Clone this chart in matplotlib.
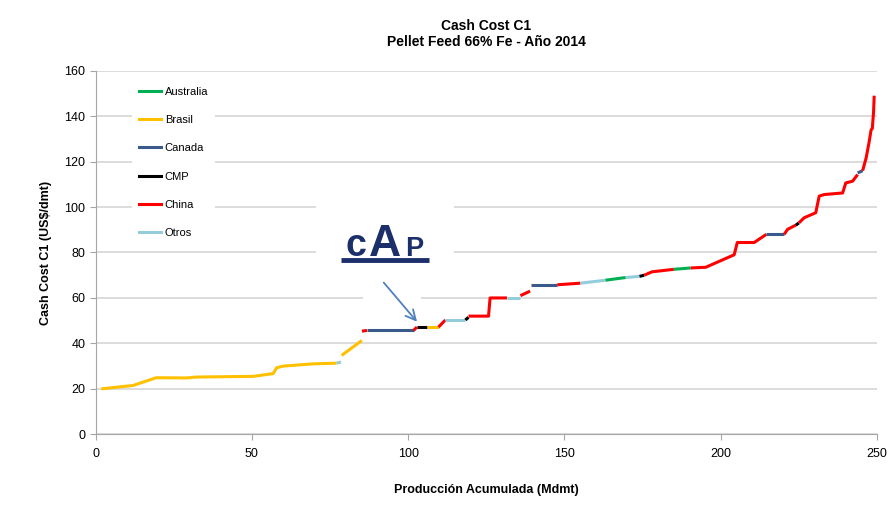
import matplotlib
matplotlib.use("Agg")
import matplotlib.pyplot as plt
from matplotlib.lines import Line2D
from matplotlib.patches import Rectangle

plt.rcParams['font.family'] = ['Liberation Sans', 'DejaVu Sans']

# segmentos de la curva de costos (pais, produccion acumulada, costo)
seg_country = ["Brasil", "Otros", "Brasil", "China", "Canada", "China", "CMP", "Brasil",
               "China", "Otros", "CMP", "China", "Otros", "China", "Canada", "China",
               "Otros", "Australia", "Otros", "CMP", "China", "Australia", "China",
               "Canada", "China", "CMP", "China", "Canada", "China"]
seg_x = [[1.8, 12, 19.4, 29, 32.3, 50.4, 56.8, 57.9, 60, 69.6, 77.1],
         [77.1, 78.5],
         [78.7, 85.2],
         [85.2, 86.8],
         [86.8, 101.7],
         [101.7, 102.8],
         [102.8, 106],
         [106, 109.7],
         [109.7, 111.9],
         [111.9, 118.3],
         [118.3, 119.3],
         [119.3, 125.7, 126.2, 131.6],
         [131.6, 135.9],
         [135.9, 139],
         [139.3, 147.7],
         [147.7, 155.1],
         [155.1, 163.1],
         [163.1, 169.6],
         [169.6, 174],
         [174, 175.5],
         [175.5, 178, 185],
         [185, 190.4],
         [190.4, 195.2, 204.3, 205.3, 210.7, 214.6],
         [214.6, 220.3],
         [220.3, 221.4, 223.5, 224],
         [224, 225],
         [225, 226.7, 230.4, 231.5, 233.1, 239, 240, 242.2, 243.8],
         [243.8, 245.4],
         [245.4, 246.5, 247.5, 248.1, 248.5, 248.9, 249.1]]
seg_y = [[20, 21.5, 24.9, 24.8, 25.2, 25.5, 26.7, 29.3, 30, 31, 31.3],
         [31.3, 31.8],
         [34.7, 41.3],
         [45.4, 45.7],
         [45.7, 45.7],
         [45.7, 47.2],
         [47.2, 47.2],
         [47.2, 47.2],
         [47.2, 50.3],
         [50.3, 50.3],
         [50.3, 51.5],
         [52, 52, 60, 60],
         [60, 60],
         [61, 63],
         [65.8, 65.8],
         [65.8, 66.5],
         [66.5, 67.8],
         [67.8, 69],
         [69, 69.5],
         [69.5, 70],
         [70, 71.5, 72.6],
         [72.6, 73.2],
         [73.2, 73.5, 79, 84.4, 84.4, 88],
         [88, 88],
         [88, 90.2, 91.7, 92],
         [92, 93],
         [93, 95.3, 97.5, 104.8, 105.5, 106.2, 110.6, 111.4, 114.3],
         [115, 116],
         [116, 121.5, 128.8, 133.9, 134.6, 141.9, 149]]

countries = ["Australia", "Brasil", "Canada", "CMP", "China", "Otros"]
colors = {"Australia": "#00B050", "Brasil": "#FFC000", "Canada": "#3A5A8C",
          "CMP": "#000000", "China": "#FF0000", "Otros": "#92CDDC"}

fig = plt.figure(figsize=(8.94, 5.05), dpi=100)
ax = fig.add_axes([0.107, 0.14, 0.874, 0.72])

for c, xs, ys in zip(seg_country, seg_x, seg_y):
    ax.plot(xs, ys, color=colors[c], lw=2.2, solid_capstyle='butt', zorder=3)

ax.set_xlim(0, 250)
ax.set_ylim(0, 160)
ax.set_xticks(range(0, 251, 50))
ax.set_yticks(range(0, 161, 20))
ax.yaxis.grid(True, color='#D9D9D9', lw=1.3)
ax.set_axisbelow(True)
for s in ['top', 'right']:
    ax.spines[s].set_visible(False)
ax.spines['left'].set_color('#A6A6A6')
ax.spines['bottom'].set_color('#A6A6A6')
ax.tick_params(colors='#A6A6A6', labelcolor='black', labelsize=9, length=4)
ax.tick_params(axis='x', pad=6)

ax.set_title("Cash Cost C1\nPellet Feed 66% Fe - Año 2014", fontsize=10,
             fontweight='bold', pad=18)
ax.set_xlabel("Producción Acumulada (Mdmt)", fontsize=9, fontweight='bold', labelpad=17)
ax.set_ylabel("Cash Cost C1 (US$/dmt)", fontsize=9, fontweight='bold', labelpad=9)

handles = [Line2D([], [], color=colors[c], lw=2.2) for c in countries]
leg = ax.legend(handles, countries, loc='upper left', bbox_to_anchor=(0.04, 0.99),
                frameon=True, fontsize=8, labelspacing=1.65, handlelength=2.0,
                handletextpad=0.3, borderpad=0.6)
leg.get_frame().set_edgecolor('none')
leg.get_frame().set_facecolor('white')
leg.get_frame().set_alpha(1)

# logo CAP (fondo blanco) y flecha
ax.add_patch(Rectangle((70.5, 74), 44, 28.5, facecolor='white', edgecolor='none', zorder=1))
ax.add_patch(Rectangle((85.5, 56), 18.5, 10, facecolor='white', edgecolor='none', zorder=1))
navy = '#1B2F6B'
ax.text(83.3, 78.6, "c", fontsize=27, fontweight='bold', color=navy,
        ha='center', va='baseline', zorder=5)
ax.text(92.6, 78.6, "A", fontsize=32, fontweight='bold', color=navy,
        ha='center', va='baseline', zorder=5)
ax.text(102.0, 78.6, "P", fontsize=19.5, fontweight='bold', color=navy,
        ha='center', va='baseline', zorder=5)
ax.plot([78.5, 106.8], [76.9, 76.9], color=navy, lw=3.5, zorder=6,
        solid_capstyle='butt')
ax.annotate("", xy=(103.4, 48.6), xytext=(91.6, 67.7),
            arrowprops=dict(arrowstyle='->', color='#4F81BD', lw=1.3,
                            mutation_scale=18), zorder=5)

fig.savefig("out.png", dpi=100)
